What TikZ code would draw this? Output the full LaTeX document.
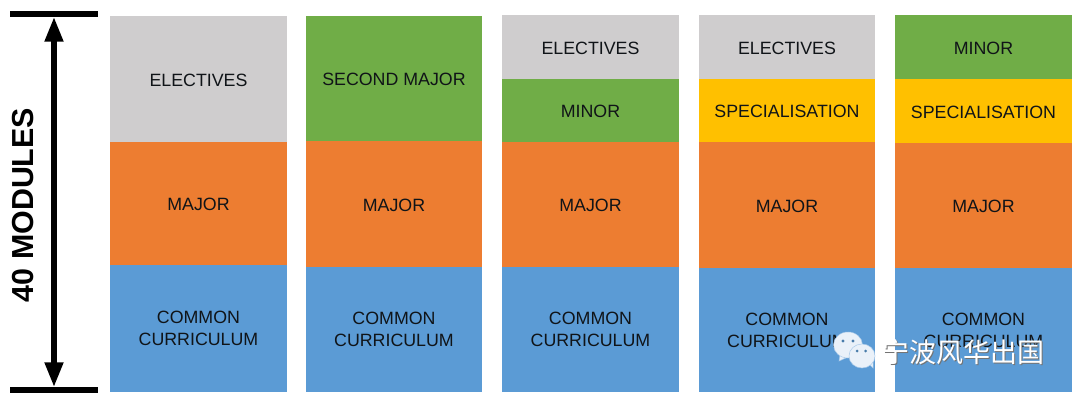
\documentclass[tikz,border=0pt]{standalone}
\usepackage{fontspec}
\setmainfont{Liberation Sans}
\newfontfamily\cjkfont{Noto Sans CJK SC}
\usetikzlibrary{arrows.meta}
\definecolor{cgray}{HTML}{CFCDCE}
\definecolor{corange}{HTML}{ED7D31}
\definecolor{cblue}{HTML}{5B9BD5}
\definecolor{cgreen}{HTML}{70AD47}
\definecolor{cyellow}{HTML}{FFC000}
\definecolor{ctext}{HTML}{101418}
\definecolor{cicon}{HTML}{EAF1F9}
\tikzset{
  x=1pt,y=-1pt,
  topstrut/.style={execute at begin node={\rule{0pt}{#1}}},
  block/.style={rectangle,inner sep=0pt,outer sep=0pt,text=ctext,align=center,
    minimum width=176.5pt,font=\fontsize{17.8}{22}\selectfont,topstrut=14.2pt},
  elect/.style={block,fill=cgray,minimum height=#1 pt},
  maj/.style={block,fill=corange,minimum height=#1 pt},
  comm/.style={block,fill=cblue,minimum height=#1 pt,topstrut=16pt},
  mnr/.style={block,fill=cgreen,minimum height=#1 pt},
  spec/.style={block,fill=cyellow,minimum height=#1 pt},
  bar/.style={rectangle,fill=black,inner sep=0pt,outer sep=0pt,minimum width=88pt,minimum height=6pt},
  dim/.style={line width=6pt,{Triangle[length=25pt,width=17.5pt]}-{Triangle[length=25pt,width=17.5pt]}},
  bubble/.style={fill=cicon,draw=cblue!45!cicon,line width=.5pt},
  eye/.style={fill=cblue!80!black},
}
\begin{document}
\begin{tikzpicture}
\useasboundingbox (0,0) rectangle (1080,401);
% dimension
\node[bar] (topbar) at (54,13.7) {};
\node[bar] (botbar) at (54,390.3) {};
\draw[dim] (topbar) -- (botbar);
\node[rotate=90,font=\bfseries\fontsize{30.4}{32}\selectfont,inner sep=0pt] (lbl) at (23,205) {40 MODULES};
% column 1
\node[elect=126] (a1) at (198.5,79) {ELECTIVES};
\node[maj=123] (a2) at (198.5,203.5) {MAJOR};
\node[comm=127] (a3) at (198.5,328.5) {COMMON\\CURRICULUM};
% column 2
\node[mnr=125] (b1) at (394,78.5) {SECOND MAJOR};
\node[maj=126] (b2) at (394,204) {MAJOR};
\node[comm=125] (b3) at (394,329.5) {COMMON\\CURRICULUM};
% column 3
\node[elect=64,topstrut=0pt] (c1) at (590.5,47) {ELECTIVES};
\node[mnr=63,topstrut=0pt] (c2) at (590.5,110.5) {MINOR};
\node[maj=125,topstrut=0pt] (c3) at (590.5,204.5) {MAJOR};
\node[comm=125] (c4) at (590.5,329.5) {COMMON\\CURRICULUM};
% column 4
\node[elect=64,topstrut=0pt] (d1) at (787,47) {ELECTIVES};
\node[spec=63,topstrut=0pt] (d2) at (787,110.5) {SPECIALISATION};
\node[maj=126,topstrut=0pt] (d3) at (787,205) {MAJOR};
\node[comm=124] (d4) at (787,330) {COMMON\\CURRICULUM};
% column 5
\node[mnr=64,topstrut=0pt] (e1) at (983.5,47) {MINOR};
\node[spec=64,topstrut=0pt] (e2) at (983.5,111) {SPECIALISATION};
\node[maj=125,topstrut=0pt] (e3) at (983.5,205.5) {MAJOR};
\node[comm=124] (e4) at (983.5,330) {COMMON\\CURRICULUM};
% watermark
\path[bubble] (840,355) -- (839,361) -- (848,357) -- cycle;
\path[bubble] (848,345) ellipse[x radius=14.5,y radius=13];
\fill[eye] (843,341) circle[radius=1.7] (853,341) circle[radius=1.7];
\path[bubble] (869,364) -- (873,368) -- (873,360) -- cycle;
\path[bubble] (862,356) ellipse[x radius=13,y radius=12];
\fill[eye] (857,351) circle[radius=1.5] (865.5,351) circle[radius=1.5];
\node[inner sep=0pt,text=black!55,font=\cjkfont\fontsize{27}{28}\selectfont] (wms) at (964.5,353) {宁波风华出国};
\node[inner sep=0pt,text=white,font=\cjkfont\fontsize{27}{28}\selectfont] (wm) at (963.5,352) {宁波风华出国};
\end{tikzpicture}
\end{document}
